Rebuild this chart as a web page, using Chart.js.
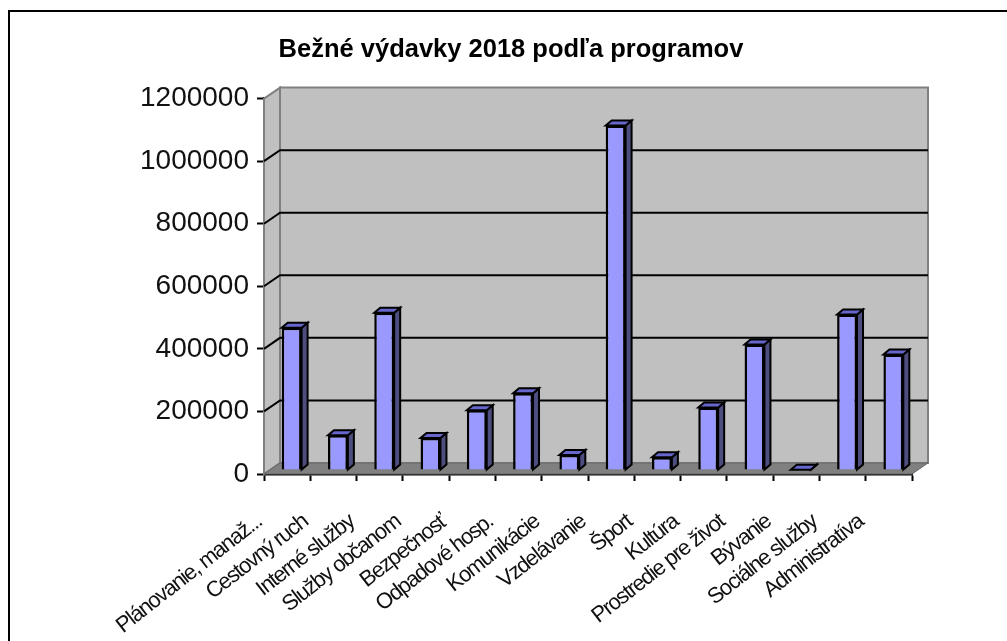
<!DOCTYPE html>
<html>
<head>
<meta charset="utf-8">
<script src="https://cdn.jsdelivr.net/npm/chart.js@4"></script>
<style>
  html, body { margin: 0; padding: 0; background: #fff; overflow: hidden; }
  #frame { position: absolute; left: 8px; top: 10px; right: 0; bottom: 0; border-left: 2px solid #000; border-top: 2px solid #000; }
  #chart { position: absolute; left: 0; top: 0; }
</style>
</head>
<body>
<div id="frame"></div>
<canvas id="chart" width="1007" height="641"></canvas>
<script>
const chartTitle = 'Bežné výdavky 2018 podľa programov';
const categories = ['Plánovanie, manaž...', 'Cestovný ruch', 'Interné služby', 'Služby občanom', 'Bezpečnosť', 'Odpadové hosp.', 'Komunikácie', 'Vzdelávanie', 'Šport', 'Kultúra', 'Prostredie pre život', 'Bývanie', 'Sociálne služby', 'Administratíva'];
const values = [455000, 111000, 503000, 102000, 191000, 245000, 48000, 1101000, 41000, 200000, 401000, 1000, 497000, 369000];
const yTicks = [0, 200000, 400000, 600000, 800000, 1000000, 1200000];

// 3D look of the old Excel chart
const wallDepth = { x: 16, y: -11 };
const barShift = { x: 4.5, y: -4 };
const barDepth = { x: 6, y: -5 };

function poly(ctx, pts, fill, stroke, lw) {
  ctx.beginPath();
  pts.forEach((p, i) => i ? ctx.lineTo(p[0], p[1]) : ctx.moveTo(p[0], p[1]));
  ctx.closePath();
  if (fill) { ctx.fillStyle = fill; ctx.fill(); }
  if (stroke) { ctx.strokeStyle = stroke; ctx.lineWidth = lw; ctx.stroke(); }
}

const box3d = {
  id: 'box3d',
  beforeDatasetsDraw(chart) {
    const { ctx, chartArea: a, scales } = chart;
    const dx = wallDepth.x, dy = wallDepth.y;
    ctx.save();
    ctx.lineJoin = 'miter';
    // back wall, side wall, floor
    poly(ctx, [[a.left + dx, a.top + dy], [a.right + dx, a.top + dy], [a.right + dx, a.bottom + dy], [a.left + dx, a.bottom + dy]], '#c0c0c0', '#808080', 2);
    poly(ctx, [[a.left, a.top], [a.left + dx, a.top + dy], [a.left + dx, a.bottom + dy], [a.left, a.bottom]], '#c0c0c0', '#808080', 2);
    poly(ctx, [[a.left, a.bottom], [a.left + dx, a.bottom + dy], [a.right + dx, a.bottom + dy], [a.right, a.bottom]], '#808080', '#666666', 1);
    // grid lines run along the side wall and the back wall
    ctx.strokeStyle = '#000';
    ctx.lineWidth = 2;
    yTicks.forEach(v => {
      if (v === 0 || v === 1200000) return;
      const y = scales.y.getPixelForValue(v);
      ctx.beginPath();
      ctx.moveTo(a.left, y);
      ctx.lineTo(a.left + dx, y + dy);
      ctx.lineTo(a.right + dx, y + dy);
      ctx.stroke();
    });
    ctx.restore();
  },
  beforeDatasetDraw(chart) {
    const { ctx } = chart;
    const bars = chart.getDatasetMeta(0).data;
    ctx.save();
    ctx.translate(barShift.x, barShift.y);
    // side and top faces, the front face is the normal bar
    bars.forEach(b => {
      const l = b.x - b.width / 2, r = b.x + b.width / 2;
      const dx = barDepth.x, dy = barDepth.y;
      poly(ctx, [[r, b.y], [r + dx, b.y + dy], [r + dx, b.base + dy], [r, b.base]], '#4d4d80', '#000', 2);
      poly(ctx, [[l, b.y], [l + dx, b.y + dy], [r + dx, b.y + dy], [r, b.y]], '#6666cc', '#000', 2);
    });
  },
  afterDatasetDraw(chart) {
    chart.ctx.restore();
  },
  afterDatasetsDraw(chart) {
    // x labels are drawn after this, the original has them squeezed
    chart.ctx.letterSpacing = '-1.4px';
  },
  afterDraw(chart) {
    chart.ctx.letterSpacing = '0px';
  }
};

new Chart(document.getElementById('chart'), {
  type: 'bar',
  data: {
    labels: categories,
    datasets: [{
      data: values,
      backgroundColor: '#9999ff',
      borderColor: '#000',
      borderWidth: 2.5,
      barPercentage: 1,
      categoryPercentage: 0.43
    }]
  },
  options: {
    responsive: false,
    animation: false,
    layout: { padding: { left: 110, right: 95, top: 0, bottom: 0 } },
    plugins: {
      legend: { display: false },
      tooltip: { enabled: false },
      title: {
        display: true,
        text: chartTitle,
        color: '#000',
        font: { family: '"Liberation Sans", Arial, sans-serif', size: 25.5, weight: 'bold' },
        padding: { top: 35, bottom: 33 }
      }
    },
    scales: {
      x: {
        afterFit(scale) { scale.height = 167; },
        grid: { drawOnChartArea: false, drawTicks: true, tickLength: 7, tickColor: '#000', tickWidth: 2, offset: true },
        border: { color: '#000', width: 2.5 },
        ticks: {
          z: 1,
          autoSkip: false,
          minRotation: 38,
          maxRotation: 38,
          padding: 28,
          labelOffset: -28,
          color: '#111',
          font: { family: '"Liberation Sans", Arial, sans-serif', size: 22 }
        }
      },
      y: {
        min: 0,
        max: 1200000,
        afterFit(scale) { scale.width = 154; },
        afterBuildTicks(scale) { scale.ticks = yTicks.map(v => ({ value: v })); },
        grid: { drawOnChartArea: false, drawTicks: true, tickLength: 7, tickColor: '#000', tickWidth: 2 },
        border: { color: '#000', width: 2.5 },
        ticks: {
          padding: 8,
          color: '#111',
          callback: v => String(v),
          font: { family: '"Liberation Sans", Arial, sans-serif', size: 28 }
        }
      }
    }
  },
  plugins: [box3d]
});
</script>
</body>
</html>
